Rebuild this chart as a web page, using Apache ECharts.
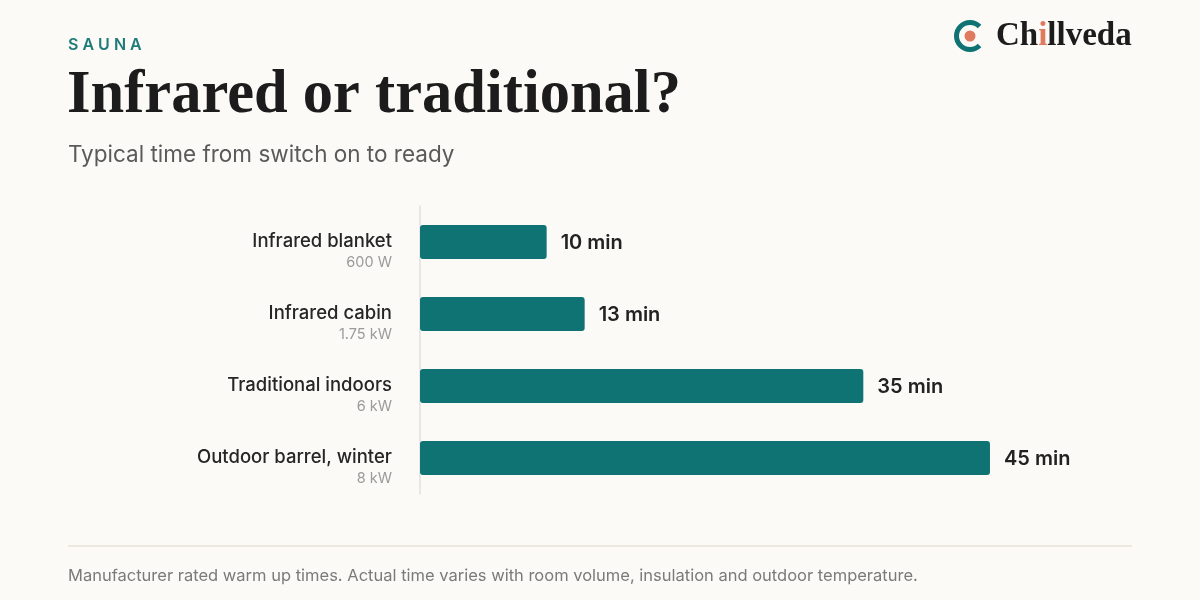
<!DOCTYPE html>
<html><head><meta charset="utf-8">
<script src="https://cdn.jsdelivr.net/npm/echarts@6/dist/echarts.min.js"></script>
<style>html,body{margin:0;padding:0;background:#fbfaf6}#c{width:1200px;height:600px}</style>
</head><body><div id="c"></div>
<script>
const categories = ["Infrared blanket", "Infrared cabin", "Traditional indoors", "Outdoor barrel, winter"];
const powers = ["600 W", "1.75 kW", "6 kW", "8 kW"];
const minutes = [10, 13, 35, 45];
const unit = "min";

const chart = echarts.init(document.getElementById('c'), null, {renderer: 'canvas'});
const sans = 'Inter, "Noto Sans", sans-serif';
const serif = '"Liberation Serif", "DejaVu Serif", serif';
const teal = '#0f7373';
const orange = '#e07a5f';

chart.setOption({
  backgroundColor: '#fbfaf6',
  animation: false,
  grid: {left: 420, top: 206, height: 288, width: 633.3, containLabel: false},
  xAxis: {type: 'value', min: 0, max: 50, show: false},
  yAxis: {
    type: 'category', inverse: true, data: categories,
    axisLine: {show: true, lineStyle: {color: '#e3e1da', width: 1.5}},
    axisTick: {show: false},
    axisLabel: {
      margin: 28, padding: [20, 0, 0, 0],
      formatter: (v, i) => '{n|' + v + '}\n{s|' + powers[i] + '}',
      rich: {
        n: {fontFamily: sans, fontSize: 18.5, fontWeight: 500, color: '#262626', lineHeight: 22, align: 'right'},
        s: {fontFamily: sans, fontSize: 14.5, color: '#9a9a9a', lineHeight: 22, align: 'right'}
      }
    }
  },
  series: [{
    type: 'bar', data: minutes, barWidth: 34,
    itemStyle: {color: teal, borderRadius: 3},
    label: {show: true, position: 'right', distance: 14, offset: [0, 1], formatter: p => p.value + ' ' + unit,
      fontFamily: sans, fontSize: 20, fontWeight: 600, color: '#222'}
  }],
  graphic: [
    {type: 'text', left: 68, top: 37, style: {text: 'S A U N A', fontFamily: sans, fontSize: 16, fontWeight: 600, fill: '#1f7a7a'}},
    {type: 'text', left: 67, top: 66, style: {text: 'Infrared or traditional?', fontFamily: serif, fontSize: 60.5, fontWeight: 700, fill: '#1c1c1c'}},
    {type: 'text', left: 68, top: 144, style: {text: 'Typical time from switch on to ready', fontFamily: sans, fontSize: 22.5, fill: '#5a5a5a'}},
    {type: 'line', shape: {x1: 68, y1: 546, x2: 1132, y2: 546}, style: {stroke: '#e6e3d6', lineWidth: 1.5}},
    {type: 'text', left: 68, top: 568, style: {text: 'Manufacturer rated warm up times. Actual time varies with room volume, insulation and outdoor temperature.', fontFamily: sans, fontSize: 16.5, fill: '#7a7a7a'}},
    {type: 'arc', shape: {cx: 970, cy: 36, r: 13.5, startAngle: Math.PI * 0.25, endAngle: -Math.PI * 0.25, clockwise: true}, style: {stroke: teal, lineWidth: 5, fill: null}},
    {type: 'circle', shape: {cx: 970, cy: 36, r: 5.5}, style: {fill: orange}},
    {type: 'text', left: 996, top: 20, style: {text: '{a|Ch}{b|i}{a|llveda}', rich: {
      a: {fontFamily: serif, fontSize: 33, fontWeight: 700, fill: '#1c1c1c'},
      b: {fontFamily: serif, fontSize: 33, fontWeight: 700, fill: orange}
    }}}
  ]
});
</script></body></html>
